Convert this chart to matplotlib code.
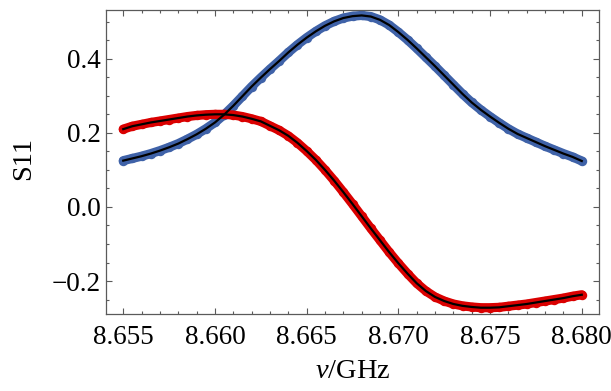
import matplotlib
matplotlib.use("Agg")
import matplotlib.pyplot as plt
import numpy as np
from matplotlib.ticker import MultipleLocator, FuncFormatter

# Frequency grid (GHz)
freq = [8.6550, 8.6555, 8.6560, 8.6565, 8.6570, 8.6575, 8.6580, 8.6585, 8.6590, 8.6595,
        8.6600, 8.6605, 8.6610, 8.6615, 8.6620, 8.6625, 8.6630, 8.6635, 8.6640, 8.6645,
        8.6650, 8.6655, 8.6660, 8.6665, 8.6670, 8.6675, 8.6680, 8.6685, 8.6690, 8.6695,
        8.6700, 8.6705, 8.6710, 8.6715, 8.6720, 8.6725, 8.6730, 8.6735, 8.6740, 8.6745,
        8.6750, 8.6755, 8.6760, 8.6765, 8.6770, 8.6775, 8.6780, 8.6785, 8.6790, 8.6795,
        8.6800]

# Blue series (one quadrature of S11)
s11_blue = [0.125, 0.131, 0.137, 0.144, 0.152, 0.161, 0.171, 0.183, 0.196, 0.211,
            0.228, 0.249, 0.273, 0.299, 0.325, 0.349, 0.372, 0.394, 0.417, 0.438,
            0.457, 0.474, 0.489, 0.501, 0.510, 0.515, 0.517, 0.514, 0.505, 0.491,
            0.472, 0.451, 0.428, 0.404, 0.380, 0.355, 0.330, 0.305, 0.282, 0.262,
            0.244, 0.227, 0.211, 0.197, 0.186, 0.175, 0.164, 0.154, 0.144, 0.135,
            0.124]

# Red series (other quadrature of S11)
s11_red = [0.210, 0.218, 0.223, 0.228, 0.232, 0.236, 0.240, 0.244, 0.247, 0.249,
           0.250, 0.250, 0.248, 0.244, 0.238, 0.231, 0.219, 0.207, 0.192, 0.173,
           0.151, 0.127, 0.100, 0.071, 0.040, 0.008, -0.025, -0.058, -0.090, -0.122,
           -0.152, -0.180, -0.206, -0.227, -0.243, -0.254, -0.262, -0.267, -0.270, -0.272,
           -0.272, -0.271, -0.268, -0.265, -0.262, -0.258, -0.254, -0.250, -0.246, -0.241,
           -0.237]

x_ticks = [8.655, 8.660, 8.665, 8.670, 8.675, 8.680]
y_ticks = [-0.2, 0.0, 0.2, 0.4]

plt.rcParams['font.family'] = ['Liberation Serif', 'DejaVu Serif']
plt.rcParams['mathtext.fontset'] = 'custom'
plt.rcParams['mathtext.rm'] = 'Liberation Serif'
plt.rcParams['mathtext.it'] = 'Liberation Serif:italic'

W, H = 611, 391
fig = plt.figure(figsize=(W / 100, H / 100), dpi=100)
L, R, T, B = 106, 599, 9.5, 314
ax = fig.add_axes([L / W, (H - B) / H, (R - L) / W, (B - T) / H])

blue = '#3f62a8'
red = '#da0000'

for ys, c in [(s11_blue, blue), (s11_red, red)]:
    ax.plot(freq, ys, '-', color=c, lw=6.6, solid_capstyle='round', solid_joinstyle='round', zorder=2)
    ax.plot(freq, ys, 'o', color=c, ms=6.8, mec='none', zorder=2)
for ys in [s11_blue, s11_red]:
    ax.plot(freq, ys, '-', color='black', lw=1.6, zorder=3)

ax.set_xlim(8.65406, 8.68094)
ax.set_ylim(-0.289, 0.533)
ax.set_xticks(x_ticks)
ax.set_yticks(y_ticks)
ax.xaxis.set_minor_locator(MultipleLocator(0.001))
ax.yaxis.set_minor_locator(MultipleLocator(0.05))
ax.xaxis.set_major_formatter(FuncFormatter(lambda v, p: f'{v:.3f}'))
ax.yaxis.set_major_formatter(FuncFormatter(lambda v, p: f'{v:.1f}'.replace('-', '\u2212') if abs(v) > 1e-9 else '0.0'))

frame_c = '#5a5a5a'
for s in ax.spines.values():
    s.set_color(frame_c)
    s.set_linewidth(0.9)
ax.tick_params(which='both', direction='in', top=True, right=True, color=frame_c, width=0.8)
ax.tick_params(which='major', length=4.2, labelsize=19.5, pad=4)
ax.tick_params(axis='x', which='major', pad=8)
ax.tick_params(which='minor', length=2.3)

fig.text(24 / W, 1 - 158 / H, 'S11', rotation=90, ha='center', va='center', fontsize=20.5)
fig.text(((L + R) / 2) / W, 1 - 372 / H, r'$\nu$/GHz', ha='center', va='center', fontsize=20.5)

fig.savefig('out.png', dpi=100)
